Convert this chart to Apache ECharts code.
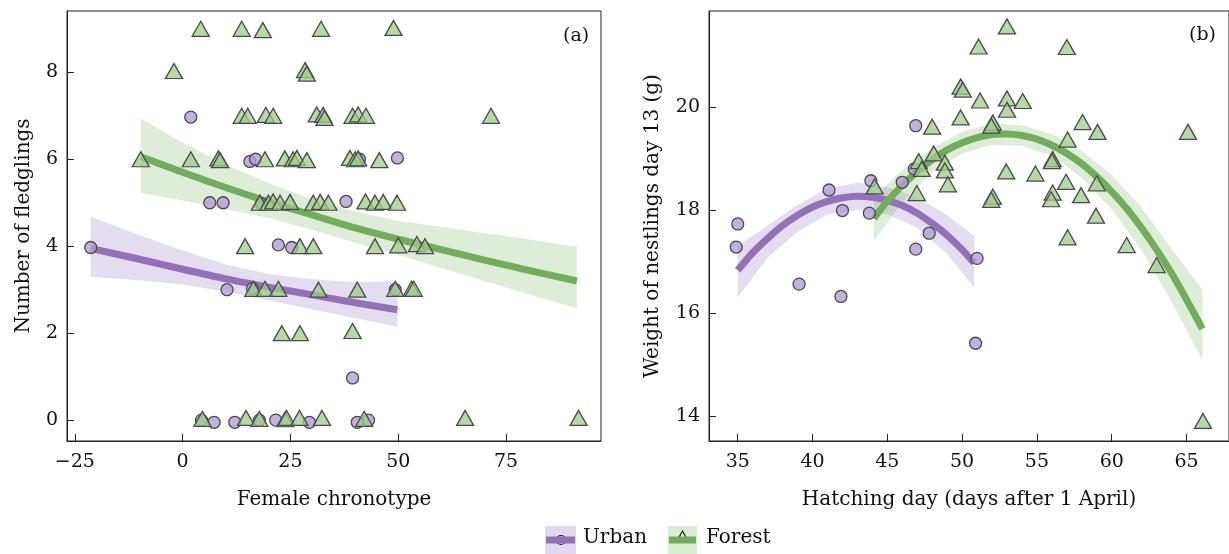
<!DOCTYPE html>
<html>
<head>
<meta charset="utf-8">
<script src="https://cdn.jsdelivr.net/npm/echarts@6/dist/echarts.min.js"></script>
<style>
html,body{margin:0;padding:0;background:#fff;}
#chart{width:1229px;height:554px;}
</style>
</head>
<body>
<div id="chart"></div>
<script>
// ---------- Panel (a): fledglings vs female chronotype ----------
const urbanChronoX = [1.9, 15.6, 16.9, 41.0, 49.8, 6.3, 9.4, 18.3, 37.9, -21.3, 22.2, 25.3, 10.3, 16.2, 49.3, 39.4, 4.4, 7.3, 12.1, 17.8, 21.6, 29.4, 40.5, 43.1];
const urbanFledgY  = [6.97, 5.95, 6.0, 6.0, 6.03, 5.0, 5.0, 4.97, 5.03, 3.97, 4.03, 3.97, 3.0, 3.03, 3.0, 0.97, 0.0, -0.05, -0.05, 0.0, 0.0, -0.05, -0.05, 0.0];

const forestChronoX = [4.2, 13.7, 18.6, 32.1, 48.9,
  -2.0, 28.4, 28.8,
  13.7, 15.1, 19.3, 21.0, 31.1, 32.6, 32.9, 39.4, 40.7, 42.5, 71.5,
  -9.7, 1.9, 8.3, 8.7, 19.1, 23.7, 25.6, 26.5, 28.8, 38.8, 40.0, 40.7, 45.6,
  17.9, 19.9, 21.0, 22.6, 24.9, 30.3, 31.9, 33.8, 42.4, 44.6, 46.5, 49.7,
  14.5, 27.2, 30.3, 44.6, 50.0, 54.3, 56.2,
  16.4, 19.1, 22.2, 31.5, 40.5, 49.3, 53.1, 53.6,
  23.0, 27.2, 39.4,
  4.6, 14.7, 17.8, 23.8, 24.1, 27.1, 32.3, 42.1, 65.5, 91.8];
const forestFledgY = [9.0, 9.0, 8.97, 9.0, 9.02,
  8.03, 8.05, 7.97,
  7.0, 7.0, 7.02, 7.0, 7.03, 7.02, 6.95, 7.0, 7.03, 7.0, 7.0,
  6.0, 6.0, 6.02, 5.98, 6.0, 6.02, 6.0, 6.03, 5.98, 6.03, 6.0, 6.02, 5.98,
  5.0, 5.0, 5.03, 5.0, 5.02, 5.0, 5.02, 5.0, 5.03, 5.0, 5.02, 5.0,
  4.0, 4.0, 4.0, 4.0, 4.02, 4.05, 4.0,
  3.02, 3.02, 3.02, 3.0, 3.0, 3.02, 3.02, 3.02,
  2.0, 2.0, 2.05,
  0.03, 0.05, 0.03, 0.02, 0.05, 0.05, 0.05, 0.03, 0.05, 0.05];

const urbanFitAX  = [-21.3, -10, 0, 10, 20, 30, 40, 49.8];
const urbanFitAY  = [3.95, 3.70, 3.47, 3.25, 3.06, 2.88, 2.70, 2.54];
const urbanLoA    = [3.30, 3.22, 3.12, 2.95, 2.75, 2.55, 2.35, 2.15];
const urbanHiA    = [4.68, 4.25, 3.90, 3.58, 3.36, 3.24, 3.17, 3.19];

const forestFitAX = [-9.7, 0, 10, 20, 30, 40, 50, 60, 70, 80, 91.4];
const forestFitAY = [6.06, 5.70, 5.35, 5.02, 4.72, 4.42, 4.16, 3.92, 3.68, 3.45, 3.20];
const forestLoA   = [5.23, 5.05, 4.85, 4.65, 4.38, 4.08, 3.80, 3.50, 3.20, 2.90, 2.57];
const forestHiA   = [6.94, 6.38, 5.88, 5.45, 5.08, 4.80, 4.58, 4.45, 4.30, 4.16, 3.99];

// ---------- Panel (b): nestling weight vs hatching day ----------
const urbanHatchX  = [35.0, 34.9, 41.1, 42.0, 43.9, 43.8, 46.9, 46.0, 46.9, 47.8, 46.8, 51.0, 39.1, 41.9, 50.9];
const urbanWeightY = [17.73, 17.28, 18.39, 17.99, 18.57, 17.94, 19.64, 18.54, 17.24, 17.55, 18.80, 17.06, 16.56, 16.32, 15.41];

const forestHatchX  = [44.15, 46.97, 47.1, 47.3, 48.0, 48.1, 48.85, 48.85, 49.05, 49.9, 50.05, 49.9, 51.1, 51.2, 53.0, 53.0, 53.0, 54.05, 52.05, 51.95, 52.95, 52.05, 51.95, 54.9, 56.05, 56.0, 56.05, 55.95, 56.95, 57.05, 57.0, 57.05, 57.95, 58.05, 59.05, 59.0, 58.95, 61.0, 63.0, 65.1, 66.1];
const forestWeightY = [18.46, 18.33, 18.95, 18.80, 19.62, 19.10, 18.92, 18.77, 18.50, 20.40, 20.34, 19.80, 21.18, 20.13, 21.57, 20.17, 19.95, 20.12, 19.70, 19.64, 18.75, 18.26, 18.20, 18.71, 18.99, 18.95, 18.34, 18.21, 18.55, 19.37, 21.17, 17.47, 18.29, 19.71, 19.52, 18.52, 17.89, 17.32, 16.93, 19.52, 13.90];

const urbanFitBX = [35, 36, 37, 38, 39, 40, 41, 42, 43, 44, 45, 46, 47, 48, 49, 50, 50.8];
const urbanFitBY = [16.83, 17.17, 17.45, 17.70, 17.90, 18.06, 18.17, 18.24, 18.27, 18.25, 18.19, 18.09, 17.94, 17.74, 17.51, 17.23, 16.97];
const urbanBandBX = [35, 37, 39, 41, 43, 45, 47, 49, 50.8];
const urbanLoB   = [16.30, 17.08, 17.58, 17.92, 18.00, 17.92, 17.65, 17.15, 16.50];
const urbanHiB   = [17.30, 17.70, 18.10, 18.42, 18.53, 18.45, 18.25, 17.90, 17.50];

const forestFitBX = [44.1, 45, 46, 47, 48, 49, 50, 51, 52, 53, 54, 55, 56, 57, 58, 59, 60, 61, 62, 63, 64, 65, 66.06];
const forestFitBY = [17.84, 18.17, 18.48, 18.75, 18.98, 19.17, 19.31, 19.41, 19.47, 19.48, 19.45, 19.38, 19.26, 19.10, 18.90, 18.65, 18.36, 18.03, 17.65, 17.23, 16.77, 16.26, 15.69];
const forestBandBX = [44.1, 46, 48, 50, 52, 54, 56, 58, 60, 62, 64, 66.06];
const forestLoB   = [17.40, 18.15, 18.74, 19.10, 19.27, 19.25, 19.05, 18.63, 18.02, 17.22, 16.22, 15.08];
const forestHiB   = [18.25, 18.78, 19.20, 19.52, 19.68, 19.65, 19.48, 19.15, 18.68, 18.05, 17.25, 16.45];

const ticksAX = [-25, 0, 25, 50, 75];
const ticksAY = [0, 2, 4, 6, 8];
const ticksBX = [35, 40, 45, 50, 55, 60, 65];
const ticksBY = [14, 16, 18, 20];

// ---------- styles ----------
const FONT = 'DejaVu Serif';
const TXT = '#111';
const purpleLine = '#9371b8';
const purpleBand = 'rgba(150,120,195,0.26)';
const purpleFill = 'rgba(178,155,214,0.78)';
const greenLine = '#72ad5d';
const greenBand = 'rgba(125,185,105,0.26)';
const greenFill = 'rgba(158,204,138,0.75)';
const markStroke = '#4a4a4a';

const zip = (a, b) => a.map((v, i) => [v, b[i]]);
const minusFmt = v => (v < 0 ? '\u2212' + Math.abs(v) : String(v));

function bandSeries(xi, xs, lo, hi, color) {
  return {
    type: 'custom', xAxisIndex: xi, yAxisIndex: xi, silent: true, z: 1,
    data: [[xs[0], lo[0]]],
    renderItem: (params, api) => {
      const pts = hi.map((y, i) => api.coord([xs[i], y]))
        .concat(lo.map((y, i) => api.coord([xs[i], y])).reverse());
      return { type: 'polygon', shape: { points: pts }, style: { fill: color } };
    }
  };
}
function fitSeries(xi, xs, ys, color) {
  return {
    type: 'line', xAxisIndex: xi, yAxisIndex: xi, data: zip(xs, ys), smooth: 0.25,
    showSymbol: false, silent: true, z: 2,
    lineStyle: { color: color, width: 7, cap: 'butt' }
  };
}
function pointSeries(xi, xs, ys, symbol, size, fill) {
  return {
    type: 'scatter', xAxisIndex: xi, yAxisIndex: xi, data: zip(xs, ys), symbol: symbol,
    symbolSize: size, z: 3, silent: true,
    itemStyle: { color: fill, borderColor: markStroke, borderWidth: 1.3, opacity: 1 }
  };
}
function xAxis(gi, min, max, ticks, name, gap) {
  return {
    type: 'value', gridIndex: gi, min: min, max: max, name: name, nameLocation: 'middle', nameGap: gap,
    nameTextStyle: { fontFamily: FONT, fontSize: 20, color: TXT },
    axisLine: { show: true, onZero: false, lineStyle: { color: '#222', width: 1 } },
    axisTick: { show: true, inside: true, length: 7, customValues: ticks, lineStyle: { color: '#222' } },
    axisLabel: { customValues: ticks, formatter: minusFmt, fontFamily: FONT, fontSize: 19, color: TXT, margin: 12 },
    splitLine: { show: false }
  };
}
function yAxis(gi, min, max, ticks, name, gap) {
  return {
    type: 'value', gridIndex: gi, min: min, max: max, name: name, nameLocation: 'middle', nameGap: gap,
    nameTextStyle: { fontFamily: FONT, fontSize: 20, color: TXT },
    axisLine: { show: true, onZero: false, lineStyle: { color: '#222', width: 1 } },
    axisTick: { show: true, inside: true, length: 7, customValues: ticks, lineStyle: { color: '#222' } },
    axisLabel: { customValues: ticks, formatter: minusFmt, fontFamily: FONT, fontSize: 19, color: TXT, margin: 9 },
    splitLine: { show: false }
  };
}

const chart = echarts.init(document.getElementById('chart'), null, { renderer: 'canvas' });
const option = {
  backgroundColor: '#fff',
  animation: false,
  grid: [
    { left: 67, top: 11, width: 534, height: 430, show: true, borderColor: '#222', borderWidth: 1, containLabel: false },
    { left: 709, top: 11, width: 521, height: 430, show: true, borderColor: '#222', borderWidth: 1, containLabel: false }
  ],
  xAxis: [
    xAxis(0, -26.8, 97, ticksAX, 'Female chronotype', 49),
    xAxis(1, 33.08, 67.84, ticksBX, 'Hatching day (days after 1 April)', 49)
  ],
  yAxis: [
    yAxis(0, -0.48, 9.41, ticksAY, 'Number of fledglings', 33),
    yAxis(1, 13.51, 21.87, ticksBY, 'Weight of nestlings day 13 (g)', 46)
  ],
  series: [
    bandSeries(0, urbanFitAX, urbanLoA, urbanHiA, purpleBand),
    bandSeries(0, forestFitAX, forestLoA, forestHiA, greenBand),
    fitSeries(0, urbanFitAX, urbanFitAY, purpleLine),
    fitSeries(0, forestFitAX, forestFitAY, greenLine),
    pointSeries(0, urbanChronoX, urbanFledgY, 'circle', 12, purpleFill),
    pointSeries(0, forestChronoX, forestFledgY, 'triangle', [17, 15], greenFill),

    bandSeries(1, urbanBandBX, urbanLoB, urbanHiB, purpleBand),
    bandSeries(1, forestBandBX, forestLoB, forestHiB, greenBand),
    fitSeries(1, urbanFitBX, urbanFitBY, purpleLine),
    fitSeries(1, forestFitBX, forestFitBY, greenLine),
    pointSeries(1, urbanHatchX, urbanWeightY, 'circle', 12, purpleFill),
    pointSeries(1, forestHatchX, forestWeightY, 'triangle', [17, 15], greenFill)
  ],
  graphic: [
    { type: 'text', left: 563, top: 27, style: { text: '(a)', font: '19px "DejaVu Serif"', fill: TXT } },
    { type: 'text', left: 1189, top: 26, style: { text: '(b)', font: '19px "DejaVu Serif"', fill: TXT } },
    // legend: Urban
    { type: 'rect', shape: { x: 545, y: 526, width: 31, height: 30 }, style: { fill: 'rgba(150,120,195,0.28)' } },
    { type: 'circle', shape: { cx: 561, cy: 540, r: 4.5 }, style: { fill: 'none', stroke: '#222', lineWidth: 1.2 } },
    { type: 'line', shape: { x1: 546, y1: 540, x2: 575, y2: 540 }, style: { stroke: purpleLine, lineWidth: 7 } },
    { type: 'text', left: 583, top: 528, style: { text: 'Urban', font: '20px "DejaVu Serif"', fill: TXT } },
    // legend: Forest
    { type: 'rect', shape: { x: 668, y: 526, width: 29, height: 30 }, style: { fill: 'rgba(125,185,105,0.28)' } },
    { type: 'polygon', shape: { points: [[682.5, 531], [677, 541], [688, 541]] }, style: { fill: 'none', stroke: '#222', lineWidth: 1.2 } },
    { type: 'line', shape: { x1: 669, y1: 540, x2: 696, y2: 540 }, style: { stroke: greenLine, lineWidth: 7 } },
    { type: 'text', left: 706, top: 528, style: { text: 'Forest', font: '20px "DejaVu Serif"', fill: TXT } }
  ]
};
chart.setOption(option);
</script>
</body>
</html>
